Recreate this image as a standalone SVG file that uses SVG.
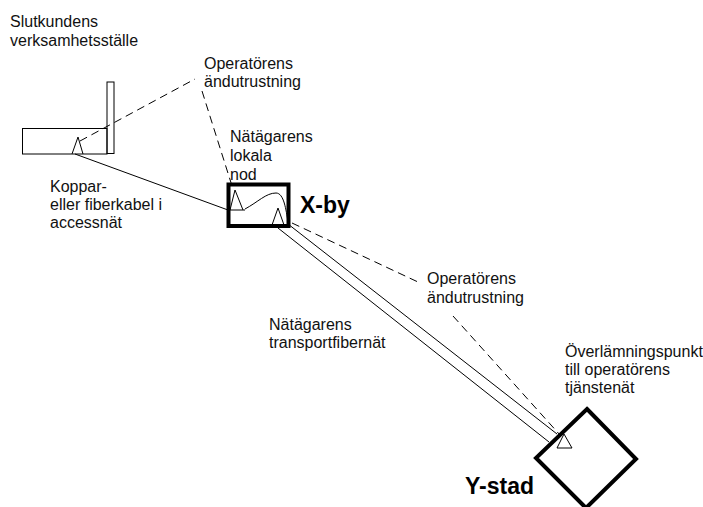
<svg xmlns="http://www.w3.org/2000/svg" width="703" height="507" viewBox="0 0 703 507">
<style>
text{font-family:"Liberation Sans",Arial,sans-serif;font-size:16px;fill:#111}
.big{font-size:23px;font-weight:bold;fill:#000}
.thin{fill:none;stroke:#000;stroke-width:1}
.dash{fill:none;stroke:#000;stroke-width:1;stroke-dasharray:8 5}
.thick{fill:none;stroke:#000;stroke-width:4}
</style>
<rect width="703" height="507" fill="#fff"/>
<g id="connectors">
<line class="dash" x1="80" y1="141" x2="195" y2="79"/>
<line class="dash" x1="202" y1="91" x2="233" y2="189"/>
<line class="thin" x1="75" y1="154" x2="228" y2="210"/>
<line class="dash" x1="292" y1="223" x2="418" y2="282"/>
<line class="dash" x1="453" y1="316" x2="560" y2="435"/>
<line class="thin" x1="278" y1="228" x2="549" y2="442"/>
<line class="thin" x1="288" y1="224" x2="557" y2="434"/>
</g>
<g id="slutkund">
<rect class="thin" x="22.5" y="128.5" width="84.5" height="25.5"/>
<rect class="thin" x="107" y="82" width="7" height="71.5"/>
<polyline class="thin" points="72,154 78,137 83,154"/>
<text x="10" y="27">Slutkundens</text>
<text x="10" y="46">verksamhetsställe</text>
</g>
<g id="operator1">
<text x="204" y="69">Operatörens</text>
<text x="204" y="87">ändutrustning</text>
</g>
<g id="x-by">
<rect class="thick" x="228.5" y="184.5" width="60" height="41.5"/>
<line class="thin" x1="228" y1="210" x2="245" y2="210"/>
<polyline class="thin" points="230,210 235,190 243,210"/>
<path class="thin" d="M245,209 C258,202 266,193 276,193 C284,193 286,210 288,222"/>
<polyline class="thin" points="272,225 278,208 284,225"/>
<text x="230" y="142">Nätägarens</text>
<text x="230" y="161">lokala</text>
<text x="230" y="180">nod</text>
<text class="big" x="300" y="213">X-by</text>
</g>
<g id="koppar">
<text x="50" y="192">Koppar-</text>
<text x="50" y="210">eller fiberkabel i</text>
<text x="50" y="228">accessnät</text>
</g>
<g id="operator2">
<text x="427" y="284">Operatörens</text>
<text x="427" y="303">ändutrustning</text>
</g>
<g id="transport">
<text x="269" y="330">Nätägarens</text>
<text x="269" y="348">transportfibernät</text>
</g>
<g id="y-stad">
<polygon class="thick" points="587,409 636,459 586,508 536,458"/>
<polygon class="thin" points="564,434 557,448 572,448"/>
<text x="565" y="357">Överlämningspunkt</text>
<text x="565" y="375">till operatörens</text>
<text x="565" y="393">tjänstenät</text>
<text class="big" x="465" y="494">Y-stad</text>
</g>
</svg>
